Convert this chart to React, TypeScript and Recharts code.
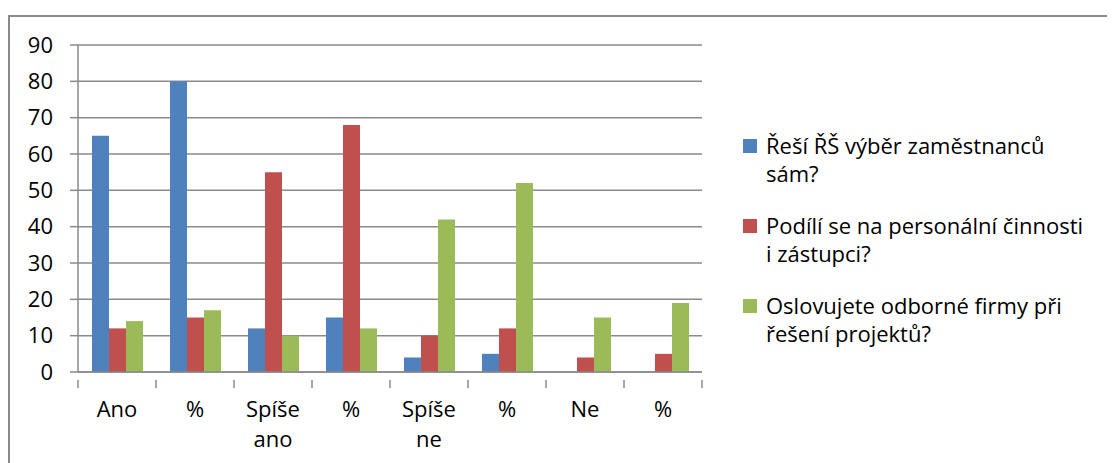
import { Bar, BarChart, CartesianGrid, XAxis, YAxis } from 'recharts'

const categories = ['Ano', '%', 'Spíše ano', '%', 'Spíše ne', '%', 'Ne', '%']
const seriesNames = [
  'Řeší ŘŠ výběr zaměstnanců sám?',
  'Podílí se na personální činnosti i zástupci?',
  'Oslovujete odborné firmy při řešení projektů?',
]
const selfValues = [65, 80, 12, 15, 4, 5, 0, 0]
const deputyValues = [12, 15, 55, 68, 10, 12, 4, 5]
const firmValues = [14, 17, 10, 12, 42, 52, 15, 19]
const yTicks = [0, 10, 20, 30, 40, 50, 60, 70, 80, 90]

const colors = ['#4F81BD', '#C0504D', '#9BBB59']
const keys = ['self', 'deputy', 'firm']

const data = categories.map((c, i) => ({
  name: c,
  self: selfValues[i],
  deputy: deputyValues[i],
  firm: firmValues[i],
}))

const FONT = '"Open Sans", sans-serif'
const AXIS = '#8a8a8a'
const CHART_W = 1100
const CHART_H = 455
const MARGIN = { top: 37, right: 406, bottom: 0, left: 10 }
const BAND = (CHART_W - MARGIN.left - 60 - MARGIN.right) / categories.length

function XTick(props: { x?: number; y?: number; payload?: { value?: string }; index?: number }) {
  const x = props.x ?? 0
  const y = props.y ?? 0
  const words = String(props.payload?.value ?? '').split(' ')
  const last = props.index === categories.length - 1
  return (
    <g>
      <line x1={x - BAND / 2} x2={x - BAND / 2} y1={y} y2={y + 8} stroke={AXIS} strokeWidth={1.5} />
      {last && <line x1={x + BAND / 2} x2={x + BAND / 2} y1={y} y2={y + 8} stroke={AXIS} strokeWidth={1.5} />}
      {words.map((w, i) => (
        <text key={i} x={x} y={y + 37 + i * 30} textAnchor="middle" fill="#000" fontSize={22} fontFamily={FONT}>
          {w}
        </text>
      ))}
    </g>
  )
}

function LegendBox() {
  return (
    <div style={{ position: 'absolute', left: 735, top: 123, fontFamily: FONT, fontSize: 22, color: '#000' }}>
      {seriesNames.map((n, i) => (
        <div key={i} style={{ display: 'flex', alignItems: 'flex-start', marginBottom: i < 2 ? 24 : 0 }}>
          <div style={{ width: 14, height: 14, background: colors[i], marginTop: 8, marginRight: 9, flexShrink: 0 }} />
          <div style={{ lineHeight: '28px', width: 325 }}>{n}</div>
        </div>
      ))}
    </div>
  )
}

export default function App() {
  return (
    <div style={{ paddingTop: 7, width: 1107, height: 448, overflow: 'hidden' }}>
      <div
        style={{
          position: 'relative',
          borderLeft: `2px solid ${AXIS}`,
          borderTop: `2px solid ${AXIS}`,
          width: 1110,
          height: 460,
        }}
      >
        <div style={{ position: 'absolute', left: -2, top: -9 }}>
          <BarChart width={CHART_W} height={CHART_H} data={data} margin={MARGIN} barGap={0} barSize={17}>
            <CartesianGrid stroke={AXIS} strokeWidth={1.5} vertical={false} />
            <XAxis
              dataKey="name"
              axisLine={{ stroke: AXIS, strokeWidth: 1.5 }}
              tickLine={false}
              tick={<XTick />}
              interval={0}
              height={91}
            />
            <YAxis
              domain={[0, 90]}
              ticks={yTicks}
              width={60}
              axisLine={{ stroke: AXIS, strokeWidth: 1.5 }}
              tickLine={{ stroke: AXIS, strokeWidth: 1.5 }}
              tickSize={8}
              tickMargin={17}
              tick={{ fill: '#000', fontSize: 22, fontFamily: FONT }}
              interval={0}
            />
            {keys.map((k, i) => (
              <Bar key={k} dataKey={k} name={seriesNames[i]} fill={colors[i]} isAnimationActive={false} />
            ))}
          </BarChart>
          <LegendBox />
        </div>
      </div>
    </div>
  )
}
